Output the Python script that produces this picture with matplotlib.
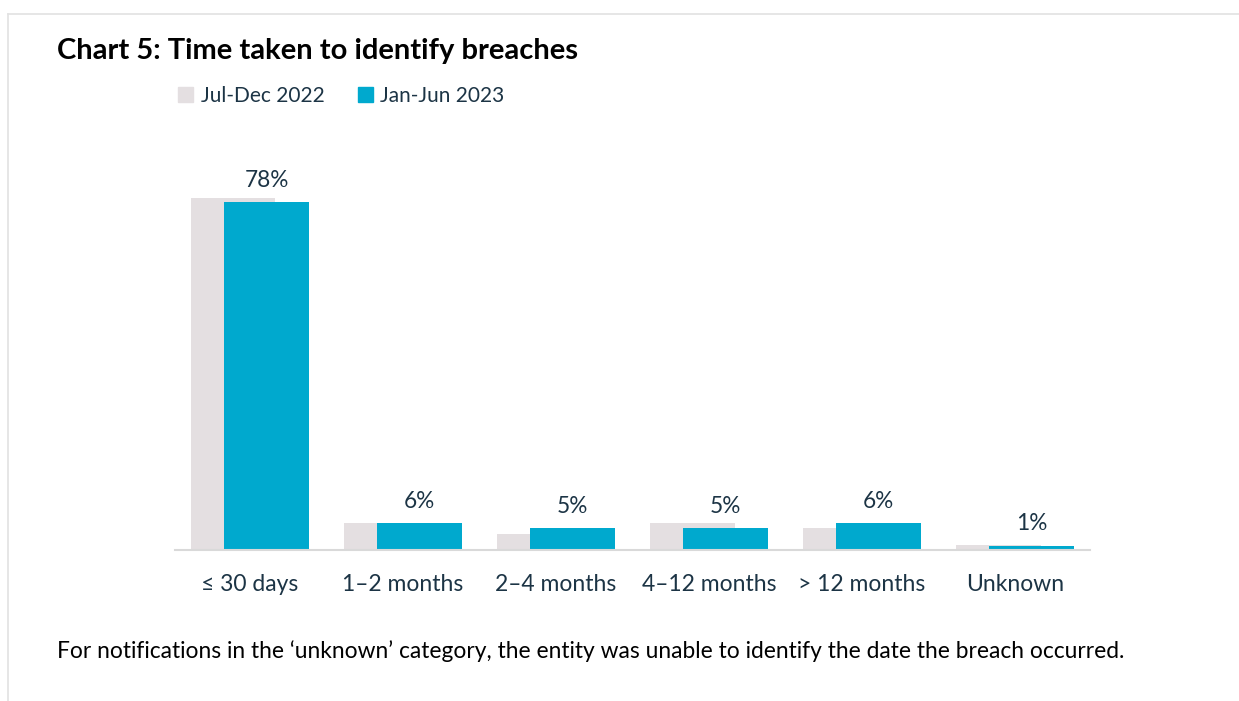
import matplotlib
matplotlib.use("Agg")
import numpy as np
from matplotlib import pyplot as plt
from matplotlib.lines import Line2D
from matplotlib.patches import Patch

plt.rcParams['font.family'] = ['Lato', 'DejaVu Sans']

# breach identification time, share of notifications (%)
categories = ['≤ 30 days', '1–2 months', '2–4 months', '4–12 months', '> 12 months', 'Unknown']
jul_dec_2022 = [79, 6, 3.5, 6, 5, 1.1]
jan_jun_2023 = [78, 6, 5, 5, 6, 1]
series_names = ['Jul-Dec 2022', 'Jan-Jun 2023']

grey = '#e4dfe1'
blue = '#00a9ce'
text_col = '#1c3445'

fig = plt.figure(figsize=(12.39, 7.01), dpi=100)
ax = fig.add_axes([0.1412, 0.2154, 0.7385, 0.5407])

x = np.arange(len(categories))
w = 0.55
off = 0.108
ax.bar(x - off, jul_dec_2022, width=w, color=grey, zorder=1)
ax.bar(x + off, jan_jun_2023, width=w, color=blue, zorder=2)

for xi, v in zip(x, jan_jun_2023):
    ax.text(xi + off, v + 2.5, f'{v:g}%', ha='center', va='bottom',
            fontsize=16.3, color=text_col)

ax.set_xlim(-0.49, len(categories) - 0.51)
ax.set_ylim(0, 85)
ax.set_yticks([])
ax.set_xticks(x)
ax.set_xticklabels(categories, fontsize=16.5, color=text_col)
ax.tick_params(axis='x', length=0, pad=17)
for s in ['top', 'right', 'left']:
    ax.spines[s].set_visible(False)
ax.spines['bottom'].set_color('#d9d9d9')
ax.spines['bottom'].set_linewidth(1.5)

# title, legend, footnote
fig.text(0.046, 0.927, 'Chart 5: Time taken to identify breaches', fontsize=21,
         fontweight='bold', color='black', va='center')
handles = [Patch(color=grey), Patch(color=blue)]
fig.legend(handles, series_names, loc='center left', bbox_to_anchor=(0.144, 0.863),
           frameon=False, ncol=2, fontsize=15.0, handlelength=0.72, handleheight=0.72,
           handletextpad=0.35, columnspacing=1.6, labelcolor=text_col, borderaxespad=0,
           borderpad=0)
fig.text(0.046, 0.071, 'For notifications in the \u2018unknown\u2019 category, the entity was unable '
         'to identify the date the breach occurred.', fontsize=16.4, color='black', va='center')

# card border
fig.add_artist(Line2D([0.0065, 1.0], [0.980, 0.980], color='#e2e2e2', lw=1.2))
fig.add_artist(Line2D([0.0065, 0.0065], [0.0, 0.980], color='#e2e2e2', lw=1.2))

fig.savefig('out.png', dpi=100, facecolor='white')
